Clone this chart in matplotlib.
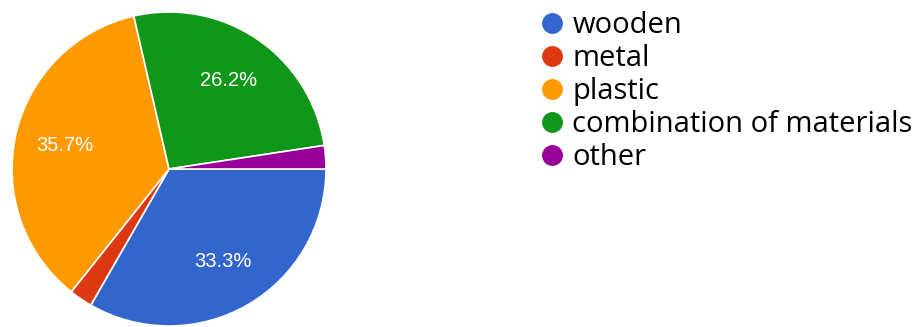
import matplotlib
matplotlib.use("Agg")
import matplotlib.pyplot as plt
from matplotlib.lines import Line2D

labels = ["wooden", "metal", "plastic", "combination of materials", "other"]
shares = [33.3, 2.4, 35.7, 26.2, 2.4]
colors = ["#3366cc", "#dc3912", "#ff9900", "#109618", "#990099"]

fig = plt.figure(figsize=(9.18, 3.27), dpi=100)
# pie centre ~ (169,169) px, radius ~157 px
ax = fig.add_axes([12 / 918, 1 / 327, 314 / 918, 314 / 327])

def fmt(p):
    return "%.1f%%" % p if p > 5 else ""

wedges, texts, autotexts = ax.pie(
    shares, colors=colors, startangle=0, counterclock=False,
    autopct=fmt, pctdistance=0.68, radius=1.0,
    wedgeprops=dict(edgecolor="white", linewidth=1.2),
    textprops=dict(color="white", fontsize=14.5, family="Liberation Sans"))
ax.set_xlim(-1, 1)
ax.set_ylim(-1, 1)
ax.set_aspect("equal")

handles = [Line2D([], [], marker="o", linestyle="", markersize=14,
                  markerfacecolor=c, markeredgecolor=c) for c in colors]
fig.legend(handles, labels, loc="upper left", bbox_to_anchor=(536 / 918, 1 - 11 / 327),
           frameon=False, prop=dict(family="Open Sans", size=21),
           handletextpad=0.15, labelspacing=0.14, handlelength=1.1,
           borderaxespad=0, borderpad=0)

plt.savefig("out.png", dpi=100)
plt.close()
